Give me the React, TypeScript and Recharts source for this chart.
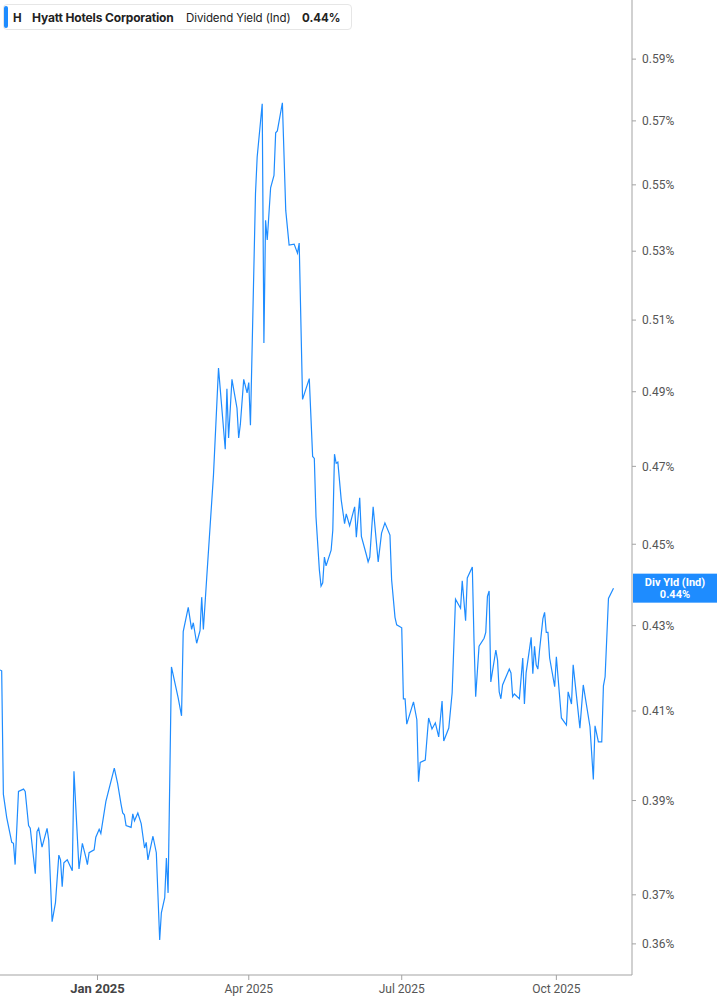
import { LineChart, Line, XAxis, YAxis, ReferenceLine } from 'recharts';

// daily dividend yield (%)
const dates = [
  '2024-11-04', '2024-11-05', '2024-11-06', '2024-11-08', '2024-11-11', '2024-11-12', '2024-11-13', '2024-11-15',
  '2024-11-18', '2024-11-19', '2024-11-21', '2024-11-22', '2024-11-25', '2024-11-26', '2024-11-27', '2024-11-29',
  '2024-12-02', '2024-12-03', '2024-12-05', '2024-12-07', '2024-12-09', '2024-12-10', '2024-12-11', '2024-12-12',
  '2024-12-14', '2024-12-17', '2024-12-18', '2024-12-21', '2024-12-23', '2024-12-25', '2024-12-26', '2024-12-27',
  '2024-12-30', '2024-12-31',
  '2025-01-02', '2025-01-03', '2025-01-06', '2025-01-11', '2025-01-13', '2025-01-15', '2025-01-16', '2025-01-17',
  '2025-01-18', '2025-01-21', '2025-01-22', '2025-01-23', '2025-01-25', '2025-01-27', '2025-01-29', '2025-01-30',
  '2025-01-31',
  '2025-02-03', '2025-02-05', '2025-02-07', '2025-02-08', '2025-02-10', '2025-02-11', '2025-02-12', '2025-02-14',
  '2025-02-18', '2025-02-20', '2025-02-21', '2025-02-24', '2025-02-26', '2025-02-27',
  '2025-03-01', '2025-03-03', '2025-03-04', '2025-03-05', '2025-03-07', '2025-03-11', '2025-03-14', '2025-03-18',
  '2025-03-19', '2025-03-20', '2025-03-22', '2025-03-25', '2025-03-26', '2025-03-27', '2025-03-29', '2025-03-31',
  '2025-04-01', '2025-04-02', '2025-04-05', '2025-04-06', '2025-04-09', '2025-04-10', '2025-04-11', '2025-04-12',
  '2025-04-14', '2025-04-16', '2025-04-17', '2025-04-18', '2025-04-21', '2025-04-23', '2025-04-25', '2025-04-28',
  '2025-04-30',
  '2025-05-01', '2025-05-03', '2025-05-07', '2025-05-09', '2025-05-10', '2025-05-11', '2025-05-13', '2025-05-14',
  '2025-05-15', '2025-05-16', '2025-05-17', '2025-05-20', '2025-05-21', '2025-05-22', '2025-05-23', '2025-05-24',
  '2025-05-26', '2025-05-28', '2025-05-29', '2025-05-31',
  '2025-06-03', '2025-06-04', '2025-06-06', '2025-06-07', '2025-06-10', '2025-06-11', '2025-06-12', '2025-06-14',
  '2025-06-17', '2025-06-19', '2025-06-21', '2025-06-24', '2025-06-25', '2025-06-27', '2025-06-28',
  '2025-07-01', '2025-07-02', '2025-07-03', '2025-07-04', '2025-07-08', '2025-07-10', '2025-07-11', '2025-07-12',
  '2025-07-15', '2025-07-17', '2025-07-19', '2025-07-21', '2025-07-23', '2025-07-25', '2025-07-26', '2025-07-29',
  '2025-07-31',
  '2025-08-02', '2025-08-05', '2025-08-06', '2025-08-08', '2025-08-09', '2025-08-12', '2025-08-13', '2025-08-14',
  '2025-08-16', '2025-08-19', '2025-08-20', '2025-08-21', '2025-08-22', '2025-08-23', '2025-08-26', '2025-08-27',
  '2025-08-28', '2025-08-29', '2025-08-30',
  '2025-09-03', '2025-09-04', '2025-09-05', '2025-09-06', '2025-09-09', '2025-09-11', '2025-09-12', '2025-09-13',
  '2025-09-16', '2025-09-17', '2025-09-18', '2025-09-19', '2025-09-20', '2025-09-21', '2025-09-23', '2025-09-24',
  '2025-09-25', '2025-09-26', '2025-09-27', '2025-09-30',
  '2025-10-01', '2025-10-04', '2025-10-07', '2025-10-08', '2025-10-10', '2025-10-11', '2025-10-15', '2025-10-17',
  '2025-10-21', '2025-10-23', '2025-10-24', '2025-10-26', '2025-10-28', '2025-10-29', '2025-10-30',
  '2025-11-01', '2025-11-04',
];

const yields = [
  0.4195, 0.4193, 0.3914, 0.3863, 0.381, 0.3808, 0.3763, 0.392,
  0.3925, 0.392, 0.3846, 0.384, 0.3744, 0.3833, 0.384, 0.38,
  0.384, 0.3815, 0.3645, 0.3684, 0.3783, 0.3773, 0.3717, 0.3767,
  0.3773, 0.375, 0.3964, 0.3754, 0.3808, 0.3779, 0.3763, 0.3788,
  0.3794, 0.3821,
  0.3838, 0.3829, 0.3898, 0.3971, 0.3937, 0.3892, 0.3873, 0.3869,
  0.3846, 0.3842, 0.3871, 0.3856, 0.3873, 0.385, 0.3798, 0.381,
  0.3773,
  0.3823, 0.3788, 0.3608, 0.3663, 0.3694, 0.3777, 0.3704, 0.4202,
  0.413, 0.4089, 0.4286, 0.4344, 0.4291, 0.4307,
  0.4258, 0.4288, 0.4369, 0.4291, 0.4418, 0.4677, 0.4965, 0.4745,
  0.4908, 0.4775, 0.4934, 0.4855, 0.4775, 0.4812, 0.4934, 0.4897,
  0.4925, 0.4809, 0.5473, 0.5586, 0.5755, 0.5035, 0.5392, 0.5333,
  0.5491, 0.5529, 0.5662, 0.5668, 0.5758, 0.5422, 0.5318, 0.5321,
  0.5294,
  0.5324, 0.4879, 0.4936, 0.4726, 0.4721, 0.4569, 0.4436, 0.4396,
  0.4404, 0.4468, 0.4446, 0.4485, 0.4536, 0.4732, 0.4708, 0.4711,
  0.4613, 0.4552, 0.4577, 0.4547,
  0.4595, 0.4518, 0.4618, 0.452, 0.4473, 0.4456, 0.4468, 0.4595,
  0.4456, 0.4528, 0.4554, 0.4523, 0.4411, 0.432, 0.4302,
  0.4295, 0.4128, 0.4128, 0.407, 0.4121, 0.408, 0.3941, 0.3984,
  0.3989, 0.4084, 0.4059, 0.4073, 0.4041, 0.4123, 0.4032, 0.4061,
  0.4142,
  0.4364, 0.4342, 0.4409, 0.4312, 0.4416, 0.4443, 0.4265, 0.4133,
  0.4251, 0.427, 0.4284, 0.4371, 0.4384, 0.4167, 0.4242, 0.4218,
  0.4144, 0.4128, 0.416,
  0.4197, 0.4188, 0.4133, 0.4139, 0.4128, 0.4223, 0.4116, 0.4188,
  0.4272, 0.4186, 0.4251, 0.4207, 0.4197, 0.4242, 0.4317, 0.4332,
  0.4284, 0.4284, 0.4223, 0.4156,
  0.4226, 0.4084, 0.4068, 0.4144, 0.4116, 0.4207, 0.4061, 0.416,
  0.4064, 0.3946, 0.4066, 0.403, 0.403, 0.4158, 0.4179,
  0.4366, 0.4391,
];

const yTicks = [0.36, 0.37, 0.39, 0.41, 0.43, 0.45, 0.47, 0.49, 0.51, 0.53, 0.55, 0.57, 0.59];
const xTickDates = ['2025-01-01', '2025-04-01', '2025-07-01', '2025-10-01'];
const xTickLabels = ['Jan 2025', 'Apr 2025', 'Jul 2025', 'Oct 2025'];

const data = dates.map((d, i) => ({ t: Date.parse(d), v: yields[i] }));
const xTicks = xTickDates.map((d) => Date.parse(d));
const lastValue = yields[yields.length - 1];

const BLUE = '#1e8cff';
const AXIS = '#a3a3a3';
const LABEL = '#555';
const FONT = 'Roboto, "Noto Sans", sans-serif';

function XTick(props: any) {
  const { x, y, payload } = props;
  const i = xTicks.indexOf(payload.value);
  const first = i === 0;
  return (
    <text
      x={x}
      y={y}
      dy="0.71em"
      textAnchor="middle"
      fill={first ? '#444' : LABEL}
      fontSize={first ? 13 : 12}
      fontWeight={first ? 700 : 400}
      fontFamily={FONT}
    >
      {xTickLabels[i]}
    </text>
  );
}

function DivLabel(props: any) {
  const { viewBox } = props;
  const x = viewBox.x + viewBox.width + 1;
  const y = viewBox.y;
  return (
    <g>
      <rect x={x} y={y - 14.5} width={84} height={29} fill={BLUE} />
      <text x={x + 42} y={y - 5} textAnchor="middle" dominantBaseline="middle" fill="#fff" fontSize={11} fontWeight={700} fontFamily={FONT}>
        Div Yld (Ind)
      </text>
      <text x={x + 42} y={y + 7} textAnchor="middle" dominantBaseline="middle" fill="#fff" fontSize={11} fontWeight={700} fontFamily={FONT}>
        {lastValue.toFixed(2)}%
      </text>
    </g>
  );
}

function Legend() {
  const span = { position: 'absolute' as const, top: 0, lineHeight: '26px', whiteSpace: 'nowrap' as const };
  return (
    <div
      style={{
        position: 'absolute',
        left: 3,
        top: 4,
        width: 349,
        height: 26,
        border: '1px solid #e6e6e6',
        borderRadius: 4,
        background: '#fff',
        boxSizing: 'border-box',
        fontFamily: 'Inter, sans-serif',
        fontSize: 11.5,
        color: '#222',
      }}
    >
      <div style={{ position: 'absolute', left: 0, top: 1, width: 4, height: 22, background: BLUE, borderRadius: 2 }} />
      <span style={{ ...span, left: 9, fontWeight: 700 }}>H</span>
      <span style={{ ...span, left: 28, fontWeight: 700, fontSize: 12, letterSpacing: -0.15 }}>Hyatt Hotels Corporation</span>
      <span style={{ ...span, left: 182, letterSpacing: -0.1 }}>Dividend Yield (Ind)</span>
      <span style={{ ...span, left: 298, fontWeight: 700 }}>{lastValue.toFixed(2)}%</span>
    </div>
  );
}

export default function App() {
  return (
    <div style={{ position: 'absolute', left: 0, top: 0, width: 717, height: 1005, background: '#fff' }}>
      <LineChart width={717} height={1005} data={data} margin={{ top: 0, right: 0, bottom: 0, left: 0 }}>
        <XAxis
          dataKey="t"
          type="number"
          domain={[Date.parse('2024-11-04'), Date.parse('2025-11-15')]}
          ticks={xTicks}
          tick={<XTick />}
          height={30}
          tickSize={5}
          tickMargin={4}
          stroke={AXIS}
          interval={0}
        />
        <YAxis
          orientation="right"
          scale="log"
          domain={[0.3538, 0.6098]}
          allowDataOverflow
          ticks={yTicks}
          interval={0}
          width={85}
          tickSize={4}
          tickMargin={6}
          stroke={AXIS}
          tick={{ fill: LABEL, fontSize: 12, fontFamily: FONT }}
          tickFormatter={(v: number) => `${v.toFixed(2)}%`}
        />
        <Line
          type="linear"
          dataKey="v"
          stroke={BLUE}
          strokeWidth={1.2}
          dot={false}
          activeDot={false}
          isAnimationActive={false}
        />
        <ReferenceLine y={lastValue} stroke="none" label={(p: any) => <DivLabel {...p} />} />
      </LineChart>
      <Legend />
    </div>
  );
}
